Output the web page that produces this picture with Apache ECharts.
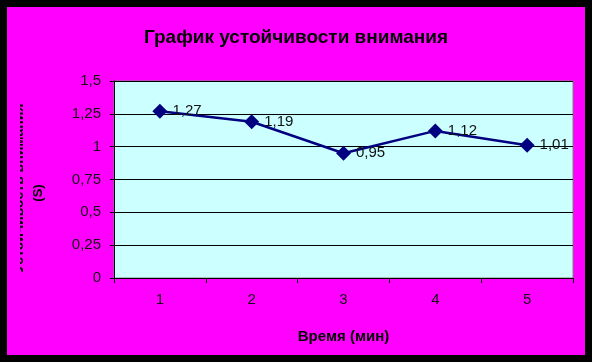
<!DOCTYPE html>
<html>
<head>
<meta charset="utf-8">
<script src="https://cdn.jsdelivr.net/npm/echarts@6/dist/echarts.min.js"></script>
<style>
html,body{margin:0;padding:0;background:#000;}
#c{width:592px;height:362px;}
</style>
</head>
<body>
<div id="c"></div>
<script>
var title = 'График устойчивости внимания';
var xName = 'Время (мин)';
var yNameLine1 = 'Устойчивость внимания';
var yNameLine2 = '(S)';
var categories = ['1', '2', '3', '4', '5'];
var values = [1.27, 1.19, 0.95, 1.12, 1.01];
var yMin = 0, yMax = 1.5, yStep = 0.25;

function comma(v) { return String(v).replace('.', ','); }

var chart = echarts.init(document.getElementById('c'), null, {renderer: 'canvas'});
chart.setOption({
  backgroundColor: '#000000',
  animation: false,
  title: {
    text: title,
    left: 'center',
    top: 23,
    textStyle: {fontFamily: 'Liberation Sans, Arial', fontWeight: 'bold', fontSize: 19, color: '#000'}
  },
  graphic: [
    {type: 'rect', z: -10, silent: true, shape: {x: 7, y: 7, width: 578, height: 348}, style: {fill: '#FF00FF'}},
    {type: 'text', z: 1, x: 26, y: 188, rotation: Math.PI / 2,
      style: {text: yNameLine1, font: 'bold 14px "Liberation Sans", Arial', fill: '#000', align: 'center', verticalAlign: 'bottom'}},
    {type: 'rect', z: 2, silent: true, shape: {x: 7, y: 90, width: 13, height: 200}, style: {fill: '#FF00FF'}},
    {type: 'text', z: 1, x: 38, y: 193, rotation: Math.PI / 2,
      style: {text: yNameLine2, font: 'bold 13px "Liberation Sans", Arial', fill: '#000', align: 'center', verticalAlign: 'middle'}}
  ],
  grid: {
    left: 114, top: 81, width: 459, height: 197,
    show: true, backgroundColor: '#CCFFFF', borderColor: '#808080', borderWidth: 1
  },
  xAxis: {
    type: 'category',
    data: categories,
    boundaryGap: true,
    name: xName,
    nameLocation: 'middle',
    nameGap: 51,
    nameTextStyle: {fontFamily: 'Liberation Sans, Arial', fontWeight: 'bold', fontSize: 15, color: '#000'},
    axisLine: {lineStyle: {color: '#000', width: 1}},
    axisTick: {show: true, alignWithLabel: false, length: 5, lineStyle: {color: '#000'}},
    axisLabel: {margin: 14, fontFamily: 'Liberation Sans, Arial', fontSize: 15, color: '#111'},
    splitLine: {show: false}
  },
  yAxis: {
    type: 'value',
    min: yMin, max: yMax, interval: yStep,
    axisLine: {show: true, lineStyle: {color: '#000', width: 1}},
    axisTick: {show: true, length: 4, lineStyle: {color: '#000'}},
    axisLabel: {margin: 13, fontFamily: 'Liberation Sans, Arial', fontSize: 15, color: '#111', formatter: comma},
    splitLine: {show: true, lineStyle: {color: '#000', width: 1}}
  },
  series: [{
    type: 'line',
    data: values,
    symbol: 'diamond',
    symbolSize: 15,
    lineStyle: {color: '#000080', width: 2.5},
    itemStyle: {color: '#000080'},
    label: {
      show: true, position: 'right', distance: 5,
      fontFamily: 'Liberation Sans, Arial', fontSize: 15, color: '#111',
      formatter: function (p) { return comma(p.value); }
    }
  }]
});
</script>
</body>
</html>
